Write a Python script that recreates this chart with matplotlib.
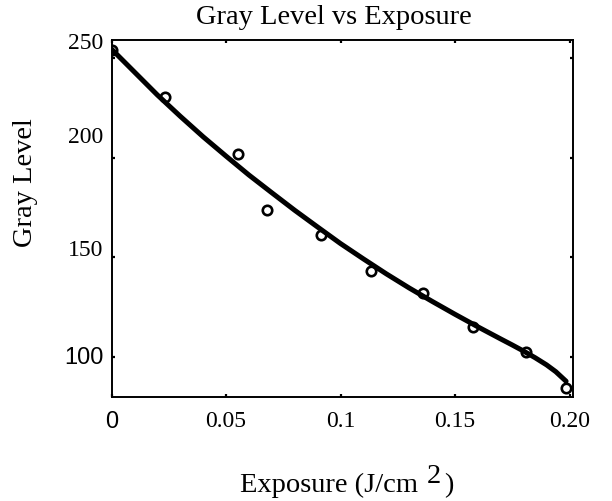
import numpy as np
import matplotlib
matplotlib.use("Agg")
import matplotlib.pyplot as plt

# measured points (circles)
exposure = [0.0, 0.0234, 0.0554, 0.0678, 0.0913, 0.1133, 0.1362, 0.1577, 0.1810, 0.1983]
gray = [254.0, 230.3, 201.9, 173.5, 161.0, 143.2, 132.3, 114.8, 102.3, 84.3]

# fitted curve
fit_x = [0.0, 0.01, 0.02, 0.03, 0.04, 0.05, 0.06, 0.07, 0.08, 0.09, 0.10,
         0.11, 0.12, 0.13, 0.14, 0.15, 0.16, 0.17, 0.175, 0.18, 0.185, 0.19,
         0.194, 0.1985]
fit_y = [254.5, 243.0, 231.5, 220.8, 210.5, 200.8, 191.3, 182.4, 173.6, 165.2, 156.9,
         149.2, 141.7, 134.6, 127.9, 121.4, 115.1, 109.0, 106.0, 102.9, 99.6, 96.0,
         92.6, 87.8]

xticks = [0, 0.05, 0.1, 0.15, 0.2]
xticklabels = ["0", "0.05", "0.1", "0.15", "0.20"]
yticks = [100, 150, 200, 250]
yticklabels = ["100", "150", "200", "250"]

serif = "Liberation Serif"
sans = "Liberation Sans"
W, H = 612, 502

fig = plt.figure(figsize=(W / 100, H / 100), dpi=100)
ax = fig.add_axes([111.5 / W, 1 - 397.5 / H, 461 / W, 357 / H])

ax.plot(fit_x, fit_y, color="black", linewidth=3.6, solid_capstyle="round",
        solid_joinstyle="round")
ax.plot(exposure, gray, linestyle="none", marker="o", markersize=6.8,
        markerfacecolor="none", markeredgecolor="black", markeredgewidth=1.9)

ax.set_xlim(0, 0.2013)
ax.set_ylim(80.15, 259.3)

for s in ax.spines.values():
    s.set_linewidth(1.4)

ax.tick_params(direction="in", length=2.3, width=1.6, top=True, right=True,
               labelsize=17)
ax.tick_params(axis="x", pad=10)
ax.set_xticks(xticks)
ax.set_xticklabels(xticklabels)
for lab in ax.get_xticklabels():
    lab.set_fontfamily(serif)
ax.get_xticklabels()[0].set_fontfamily(sans)

# y tick labels drawn by hand (they sit a bit above their ticks)
ax.set_yticks(yticks)
ax.set_yticklabels([])
y_offsets = [0, 5.8, 15.5, 11.5]
for val, txt, dy in zip(yticks, yticklabels, y_offsets):
    fam = sans if txt == "100" else serif
    ax.annotate(txt, xy=(0, val), xycoords=("axes fraction", "data"),
                xytext=(-6, dy), textcoords="offset points",
                ha="right", va="center", fontsize=17, fontfamily=fam)

fig.text(334 / W, 1 - 18 / H, "Gray Level vs Exposure", ha="center",
         va="center", fontsize=20.5, fontfamily=serif)
fig.text(26 / W, 1 - 183 / H, "Gray Level", rotation=90, ha="center",
         va="center", fontsize=20.5, fontfamily=serif)

fig.text(240 / W, 1 - 492 / H, "Exposure (J/cm", ha="left", va="baseline",
         fontsize=20.5, fontfamily=serif)
fig.text(427 / W, 1 - 483 / H, "2", ha="left", va="baseline",
         fontsize=20.5, fontfamily=serif)
fig.text(444 / W, 1 - 492 / H, ")", ha="left", va="baseline",
         fontsize=20.5, fontfamily=serif)

fig.savefig("out.png", dpi=100, facecolor="white")
